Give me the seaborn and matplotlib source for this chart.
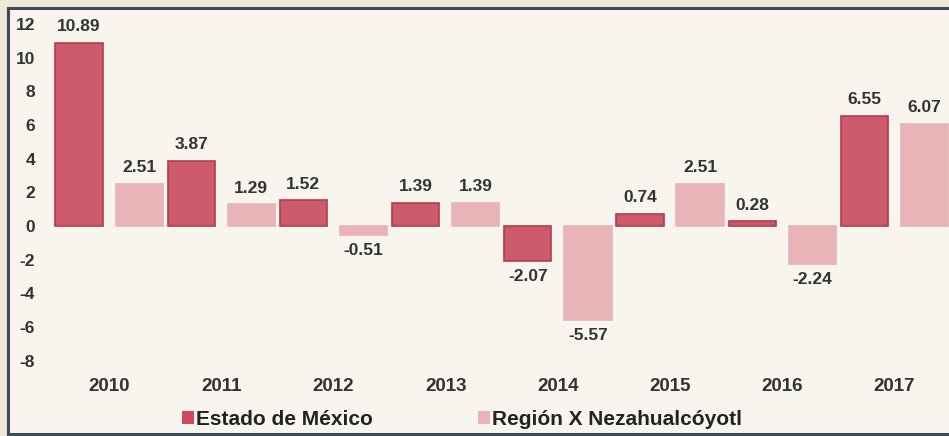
import pandas as pd
import matplotlib
matplotlib.use('Agg')
import matplotlib.pyplot as plt
import seaborn as sns
from matplotlib.patches import Rectangle

years = ['2010', '2011', '2012', '2013', '2014', '2015', '2016', '2017']
edomex = [10.89, 3.87, 1.52, 1.39, -2.07, 0.74, 0.28, 6.55]
neza = [2.51, 1.29, -0.51, 1.39, -5.57, 2.51, -2.24, 6.07]
series = ['Estado de México', 'Región X Nezahualcóyotl']
yticks = [-8, -6, -4, -2, 0, 2, 4, 6, 8, 10, 12]

red = '#cc5a6a'
pink = '#e8b4b7'
bg = '#f8f5ee'
txt = '#333333'

df = pd.DataFrame({
    'year': years * 2,
    'value': edomex + neza,
    'serie': [series[0]] * len(years) + [series[1]] * len(years),
})

sns.set_style('white')
plt.rcParams['font.family'] = ['Liberation Sans', 'DejaVu Sans']

fig = plt.figure(figsize=(9.49, 4.36), dpi=100, facecolor='#eee8da')
# frame
fig.patches.append(Rectangle((8 / 949, 1 - 433.5 / 436), 1.05, (433.5 - 8.5) / 436,
                             transform=fig.transFigure, facecolor=bg,
                             edgecolor='#3e4c5a', linewidth=2.2, zorder=-5))

ax = fig.add_axes([53 / 949, 1 - 370.9 / 436, 897.5 / 949, (370.9 - 13.7) / 436])
ax.set_facecolor('none')
ax.set_zorder(2)

sns.barplot(data=df, x='year', y='value', hue='serie', palette=[red, pink],
            width=1.072, gap=0.215, ax=ax, legend=False, saturation=1)

for cont, edge, vals in zip(ax.containers, ['#b23c4e', pink], [edomex, neza]):
    for b in cont:
        b.set_edgecolor(edge)
        b.set_linewidth(1.2)
    ax.bar_label(cont, labels=[f'{v:.2f}' for v in vals], padding=6,
                 fontsize=12.5, fontweight='bold', color=txt)

ax.set_xlim(-0.5, 7.5)
ax.set_ylim(-8.6, 12.6)
ax.set_yticks(yticks)
ax.set_yticklabels([str(t) for t in yticks])
ax.tick_params(axis='both', length=0, labelcolor=txt)
ax.tick_params(axis='y', pad=13, labelsize=12.5)
ax.tick_params(axis='x', pad=5, labelsize=13.5)
for lab in ax.get_xticklabels() + ax.get_yticklabels():
    lab.set_fontweight('bold')
ax.set_xlabel('')
ax.set_ylabel('')
sns.despine(ax=ax, left=True, bottom=True)

handles = [Rectangle((0, 0), 1, 1, facecolor='#d2465e', edgecolor='none'),
           Rectangle((0, 0), 1, 1, facecolor=pink, edgecolor='none')]
leg = fig.legend(handles, series, loc='center', bbox_to_anchor=(462 / 949, 1 - 419 / 436),
                 ncol=2, frameon=False, handlelength=0.58, handleheight=0.58,
                 handletextpad=0.12, columnspacing=5.0,
                 prop={'size': 15, 'weight': 'bold'})
for t in leg.get_texts():
    t.set_color('#222222')

fig.savefig('out.png', dpi=100, facecolor=fig.get_facecolor())
